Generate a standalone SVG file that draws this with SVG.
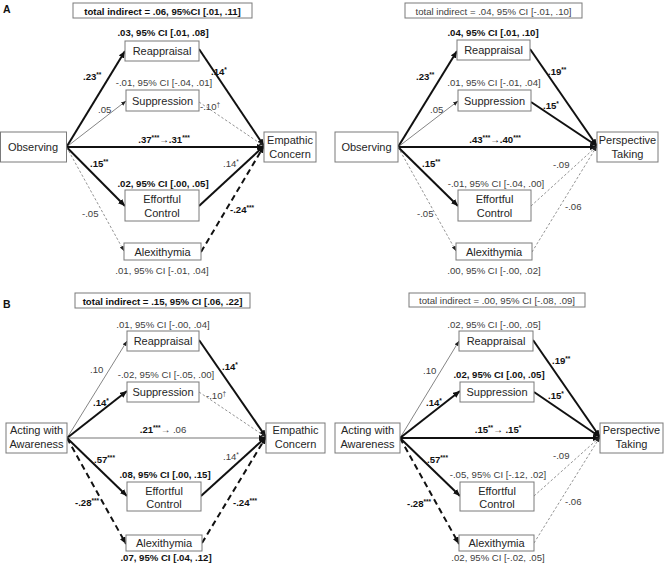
<svg xmlns="http://www.w3.org/2000/svg" width="669" height="566" viewBox="0 0 669 566">
<style>
text{font-family:"Liberation Sans",Arial,sans-serif}
.bg{fill:#fff}
.box{fill:#fff;stroke:#7a7a7a;stroke-width:1}
.lbl{font-size:11px;fill:#262626;text-anchor:middle}
.t{font-size:9.6px;fill:#404040}
.b{font-weight:bold;fill:#111}
.c{text-anchor:middle}
.s{font-size:6.5px}
.pl{font-size:10.5px;font-weight:bold;fill:#111}
.tk{fill:none;stroke:#111;stroke-width:2}
.tn{fill:none;stroke:#666;stroke-width:0.8}
.md{fill:none;stroke:#777;stroke-width:1.1}
.dk{fill:none;stroke:#111;stroke-width:2;stroke-dasharray:6,4}
.dn{fill:none;stroke:#777;stroke-width:0.8;stroke-dasharray:2.5,2}
</style>
<defs>
<marker id="ah" markerUnits="userSpaceOnUse" markerWidth="8" markerHeight="7" refX="7" refY="3" orient="auto"><path d="M0,0 L7,3 L0,6 z" fill="#111"/></marker>
<marker id="as" markerUnits="userSpaceOnUse" markerWidth="6" markerHeight="5" refX="5" refY="2" orient="auto"><path d="M0,0 L5,2 L0,4 z" fill="#222"/></marker>
</defs>
<rect class="bg" width="669" height="566"/>

<g id="connectors">
<!-- A left -->
<path class="tk" d="M66.5,147 L125,51" marker-end="url(#ah)"/>
<path class="tn" d="M66.5,147 L126,101" marker-end="url(#as)"/>
<path class="tk" d="M66.5,147 L264,147" marker-end="url(#ah)"/>
<path class="tk" d="M66.5,147 L125,206" marker-end="url(#ah)"/>
<path class="dn" d="M66.5,147 L124,251" marker-end="url(#as)"/>
<path class="tk" d="M199,49 L264,146" marker-end="url(#ah)"/>
<path class="dn" d="M199,102 L264,146" marker-end="url(#as)"/>
<path class="tk" d="M199,206 L264,146" marker-end="url(#ah)"/>
<path class="dk" d="M201,252 L264,146" marker-end="url(#ah)"/>
<!-- A right -->
<path class="tk" d="M398,147 L457,51" marker-end="url(#ah)"/>
<path class="tn" d="M398,147 L458,101" marker-end="url(#as)"/>
<path class="tk" d="M398,147 L597,147" marker-end="url(#ah)"/>
<path class="tk" d="M398,147 L458,206" marker-end="url(#ah)"/>
<path class="dn" d="M398,147 L456,251" marker-end="url(#as)"/>
<path class="tk" d="M530,49 L597,146" marker-end="url(#ah)"/>
<path class="tk" d="M531,102 L597,146" marker-end="url(#ah)"/>
<path class="dn" d="M531,206 L597,146" marker-end="url(#as)"/>
<path class="dn" d="M532,252 L597,146" marker-end="url(#as)"/>
<!-- B left -->
<path class="tn" d="M67,438 L127,341" marker-end="url(#as)"/>
<path class="tk" d="M67,438 L127,391" marker-end="url(#ah)"/>
<path class="md" d="M67,438 L266,438" marker-end="url(#ah)"/>
<path class="tk" d="M67,438 L127,496" marker-end="url(#ah)"/>
<path class="dk" d="M67,438 L126,544" marker-end="url(#ah)"/>
<path class="tk" d="M199,340 L266,437" marker-end="url(#ah)"/>
<path class="dn" d="M199,392 L266,437" marker-end="url(#as)"/>
<path class="tk" d="M201,496 L266,437" marker-end="url(#ah)"/>
<path class="dk" d="M202,543 L266,437" marker-end="url(#ah)"/>
<!-- B right -->
<path class="tn" d="M400,438 L459,341" marker-end="url(#as)"/>
<path class="tk" d="M400,438 L460,391" marker-end="url(#ah)"/>
<path class="tk" d="M400,438 L600,438" marker-end="url(#ah)"/>
<path class="tk" d="M400,438 L460,496" marker-end="url(#ah)"/>
<path class="dk" d="M400,438 L459,544" marker-end="url(#ah)"/>
<path class="tk" d="M533,340 L600,437" marker-end="url(#ah)"/>
<path class="tk" d="M534,392 L600,437" marker-end="url(#ah)"/>
<path class="dn" d="M534,496 L600,437" marker-end="url(#as)"/>
<path class="dn" d="M534,543 L600,437" marker-end="url(#as)"/>
</g>

<!-- Panel A left -->
<text class="pl" x="3" y="13">A</text>
<g id="a1-total"><rect class="box" x="73" y="3" width="179" height="15"/><text class="t b c" x="162.5" y="14.5">total indirect = .06, 95%CI [.01, .11]</text></g>
<g id="a1-obs"><rect class="box" x="0.5" y="132" width="66" height="30"/><text class="lbl" x="33" y="151">Observing</text></g>
<g id="a1-reapp"><rect class="box" x="125" y="41" width="74" height="20"/><text class="lbl" x="162" y="55">Reappraisal</text></g>
<g id="a1-supp"><rect class="box" x="126" y="90" width="73" height="21"/><text class="lbl" x="162.5" y="104.5">Suppression</text></g>
<g id="a1-ec"><rect class="box" x="264" y="132" width="52" height="30"/><text class="lbl" x="290" y="144">Empathic</text><text class="lbl" x="290" y="158">Concern</text></g>
<g id="a1-eff"><rect class="box" x="125" y="190" width="74" height="31"/><text class="lbl" x="162" y="203">Effortful</text><text class="lbl" x="162" y="217">Control</text></g>
<g id="a1-alex"><rect class="box" x="124" y="243" width="77" height="17"/><text class="lbl" x="162.5" y="255.5">Alexithymia</text></g>
<g id="a1-labels">
<text class="t b c" x="163" y="36">.03, 95% CI [.01, .08]</text>
<text class="t b" x="83" y="80">.23<tspan class="s" dy="-3.5">**</tspan></text>
<text class="t c" x="164" y="86">-.01, 95% CI [-.04, .01]</text>
<text class="t" x="98" y="113">.05</text>
<text class="t b" x="211" y="75">.14<tspan class="s" dy="-3.5">*</tspan></text>
<text class="t" x="200" y="110">-.10<tspan class="s" dy="-3.5">†</tspan></text>
<text class="t b c" x="164" y="143">.37<tspan class="s" dy="-3.5">***</tspan><tspan dy="3.5">→.31</tspan><tspan class="s" dy="-3.5">***</tspan></text>
<text class="t b" x="90" y="167">.15<tspan class="s" dy="-3.5">**</tspan></text>
<text class="t" x="223" y="167">.14<tspan class="s" dy="-3.5">*</tspan></text>
<text class="t b c" x="163" y="187">.02, 95% CI [.00, .05]</text>
<text class="t" x="82" y="217">-.05</text>
<text class="t b" x="230" y="213">-.24<tspan class="s" dy="-3.5">***</tspan></text>
<text class="t c" x="162" y="274">.01, 95% CI [-.01, .04]</text>
</g>

<!-- Panel A right -->
<g id="a2-total"><rect class="box" x="405" y="3" width="177" height="15"/><text class="t c" x="493.5" y="14.5">total indirect = .04, 95% CI [-.01, .10]</text></g>
<g id="a2-obs"><rect class="box" x="335" y="132" width="63" height="30"/><text class="lbl" x="366.5" y="151">Observing</text></g>
<g id="a2-reapp"><rect class="box" x="457" y="40" width="73" height="20"/><text class="lbl" x="493.5" y="54">Reappraisal</text></g>
<g id="a2-supp"><rect class="box" x="458" y="90" width="73" height="21"/><text class="lbl" x="494.5" y="104.5">Suppression</text></g>
<g id="a2-pt"><rect class="box" x="597" y="132" width="61" height="30"/><text class="lbl" x="627.5" y="144">Perspective</text><text class="lbl" x="627.5" y="158">Taking</text></g>
<g id="a2-eff"><rect class="box" x="458" y="190" width="73" height="31"/><text class="lbl" x="494.5" y="203">Effortful</text><text class="lbl" x="494.5" y="217">Control</text></g>
<g id="a2-alex"><rect class="box" x="456" y="243" width="76" height="17"/><text class="lbl" x="494" y="255.5">Alexithymia</text></g>
<g id="a2-labels">
<text class="t b c" x="493" y="36">.04, 95% CI [.01, .10]</text>
<text class="t b" x="416" y="80">.23<tspan class="s" dy="-3.5">**</tspan></text>
<text class="t b" x="548" y="75">.19<tspan class="s" dy="-3.5">**</tspan></text>
<text class="t c" x="494" y="86">.01, 95% CI [-.01, .04]</text>
<text class="t" x="430" y="113">.05</text>
<text class="t b" x="543" y="109">.15<tspan class="s" dy="-3.5">*</tspan></text>
<text class="t b c" x="495" y="143">.43<tspan class="s" dy="-3.5">***</tspan><tspan dy="3.5">→.40</tspan><tspan class="s" dy="-3.5">***</tspan></text>
<text class="t b" x="422" y="167">.15<tspan class="s" dy="-3.5">**</tspan></text>
<text class="t" x="553" y="168">-.09</text>
<text class="t c" x="496" y="187">-.01, 95% CI [-.04, .00]</text>
<text class="t" x="417" y="217">-.05</text>
<text class="t" x="565" y="210">-.06</text>
<text class="t c" x="494" y="274">.00, 95% CI [-.00, .02]</text>
</g>

<!-- Panel B left -->
<text class="pl" x="3" y="308">B</text>
<g id="b1-total"><rect class="box" x="75" y="293" width="175" height="15"/><text class="t b c" x="162.5" y="304.5">total indirect = .15, 95% CI [.06, .22]</text></g>
<g id="b1-awa"><rect class="box" x="6" y="423" width="61" height="30"/><text class="lbl" x="36.5" y="434">Acting with</text><text class="lbl" x="36.5" y="448">Awareness</text></g>
<g id="b1-reapp"><rect class="box" x="127" y="331" width="72" height="20"/><text class="lbl" x="163" y="345">Reappraisal</text></g>
<g id="b1-supp"><rect class="box" x="127" y="382" width="72" height="20"/><text class="lbl" x="163" y="396">Suppression</text></g>
<g id="b1-ec"><rect class="box" x="266" y="423" width="59" height="30"/><text class="lbl" x="295.5" y="434">Empathic</text><text class="lbl" x="295.5" y="448">Concern</text></g>
<g id="b1-eff"><rect class="box" x="127" y="482" width="74" height="29"/><text class="lbl" x="164" y="495">Effortful</text><text class="lbl" x="164" y="508">Control</text></g>
<g id="b1-alex"><rect class="box" x="126" y="535" width="76" height="16"/><text class="lbl" x="164" y="547">Alexithymia</text></g>
<g id="b1-labels">
<text class="t c" x="163" y="328">.01, 95% CI [-.00, .04]</text>
<text class="t" x="90" y="373">.10</text>
<text class="t b" x="222" y="370">.14<tspan class="s" dy="-3.5">*</tspan></text>
<text class="t c" x="166" y="378">-.02, 95% CI [-.05, .00]</text>
<text class="t b" x="93" y="406">.14<tspan class="s" dy="-3.5">*</tspan></text>
<text class="t" x="206" y="399">-.10<tspan class="s" dy="-3.5">†</tspan></text>
<text class="t c" x="163" y="433"><tspan class="b">.21</tspan><tspan class="b s" dy="-3.5">***</tspan><tspan dy="3.5">→ .06</tspan></text>
<text class="t b" x="94" y="463">.57<tspan class="s" dy="-3.5">***</tspan></text>
<text class="t" x="223" y="460">.14<tspan class="s" dy="-3.5">*</tspan></text>
<text class="t b c" x="165" y="478">.08, 95% CI [.00, .15]</text>
<text class="t b" x="75" y="506">-.28<tspan class="s" dy="-3.5">***</tspan></text>
<text class="t b" x="233" y="506">-.24<tspan class="s" dy="-3.5">***</tspan></text>
<text class="t b c" x="166" y="561">.07, 95% CI [.04, .12]</text>
</g>

<!-- Panel B right -->
<g id="b2-total"><rect class="box" x="409" y="293" width="176" height="14"/><text class="t c" x="497" y="304">total indirect = .00, 95% CI [-.08, .09]</text></g>
<g id="b2-awa"><rect class="box" x="335" y="423" width="65" height="30"/><text class="lbl" x="367.5" y="434">Acting with</text><text class="lbl" x="367.5" y="448">Awareness</text></g>
<g id="b2-reapp"><rect class="box" x="459" y="331" width="74" height="20"/><text class="lbl" x="496" y="345">Reappraisal</text></g>
<g id="b2-supp"><rect class="box" x="460" y="382" width="74" height="20"/><text class="lbl" x="497" y="396">Suppression</text></g>
<g id="b2-pt"><rect class="box" x="600" y="423" width="63" height="30"/><text class="lbl" x="631.5" y="434">Perspective</text><text class="lbl" x="631.5" y="448">Taking</text></g>
<g id="b2-eff"><rect class="box" x="460" y="482" width="74" height="29"/><text class="lbl" x="497" y="495">Effortful</text><text class="lbl" x="497" y="508">Control</text></g>
<g id="b2-alex"><rect class="box" x="459" y="535" width="75" height="16"/><text class="lbl" x="496.5" y="547">Alexithymia</text></g>
<g id="b2-labels">
<text class="t c" x="494" y="328">.02, 95% CI [-.00, .05]</text>
<text class="t" x="423" y="374">.10</text>
<text class="t b" x="552" y="364">.19<tspan class="s" dy="-3.5">**</tspan></text>
<text class="t b c" x="499" y="378">.02, 95% CI [.00, .05]</text>
<text class="t b" x="426" y="406">.14<tspan class="s" dy="-3.5">*</tspan></text>
<text class="t b" x="548" y="399">.15<tspan class="s" dy="-3.5">*</tspan></text>
<text class="t b c" x="498" y="433">.15<tspan class="s" dy="-3.5">**</tspan><tspan dy="3.5">→ .15</tspan><tspan class="s" dy="-3.5">*</tspan></text>
<text class="t b" x="427" y="463">.57<tspan class="s" dy="-3.5">***</tspan></text>
<text class="t" x="553" y="459">-.09</text>
<text class="t c" x="498" y="478">-.05, 95% CI [-.12, .02]</text>
<text class="t b" x="407" y="507">-.28<tspan class="s" dy="-3.5">***</tspan></text>
<text class="t" x="565" y="505">-.06</text>
<text class="t c" x="498" y="561">.02, 95% CI [-.02, .05]</text>
</g>
</svg>
